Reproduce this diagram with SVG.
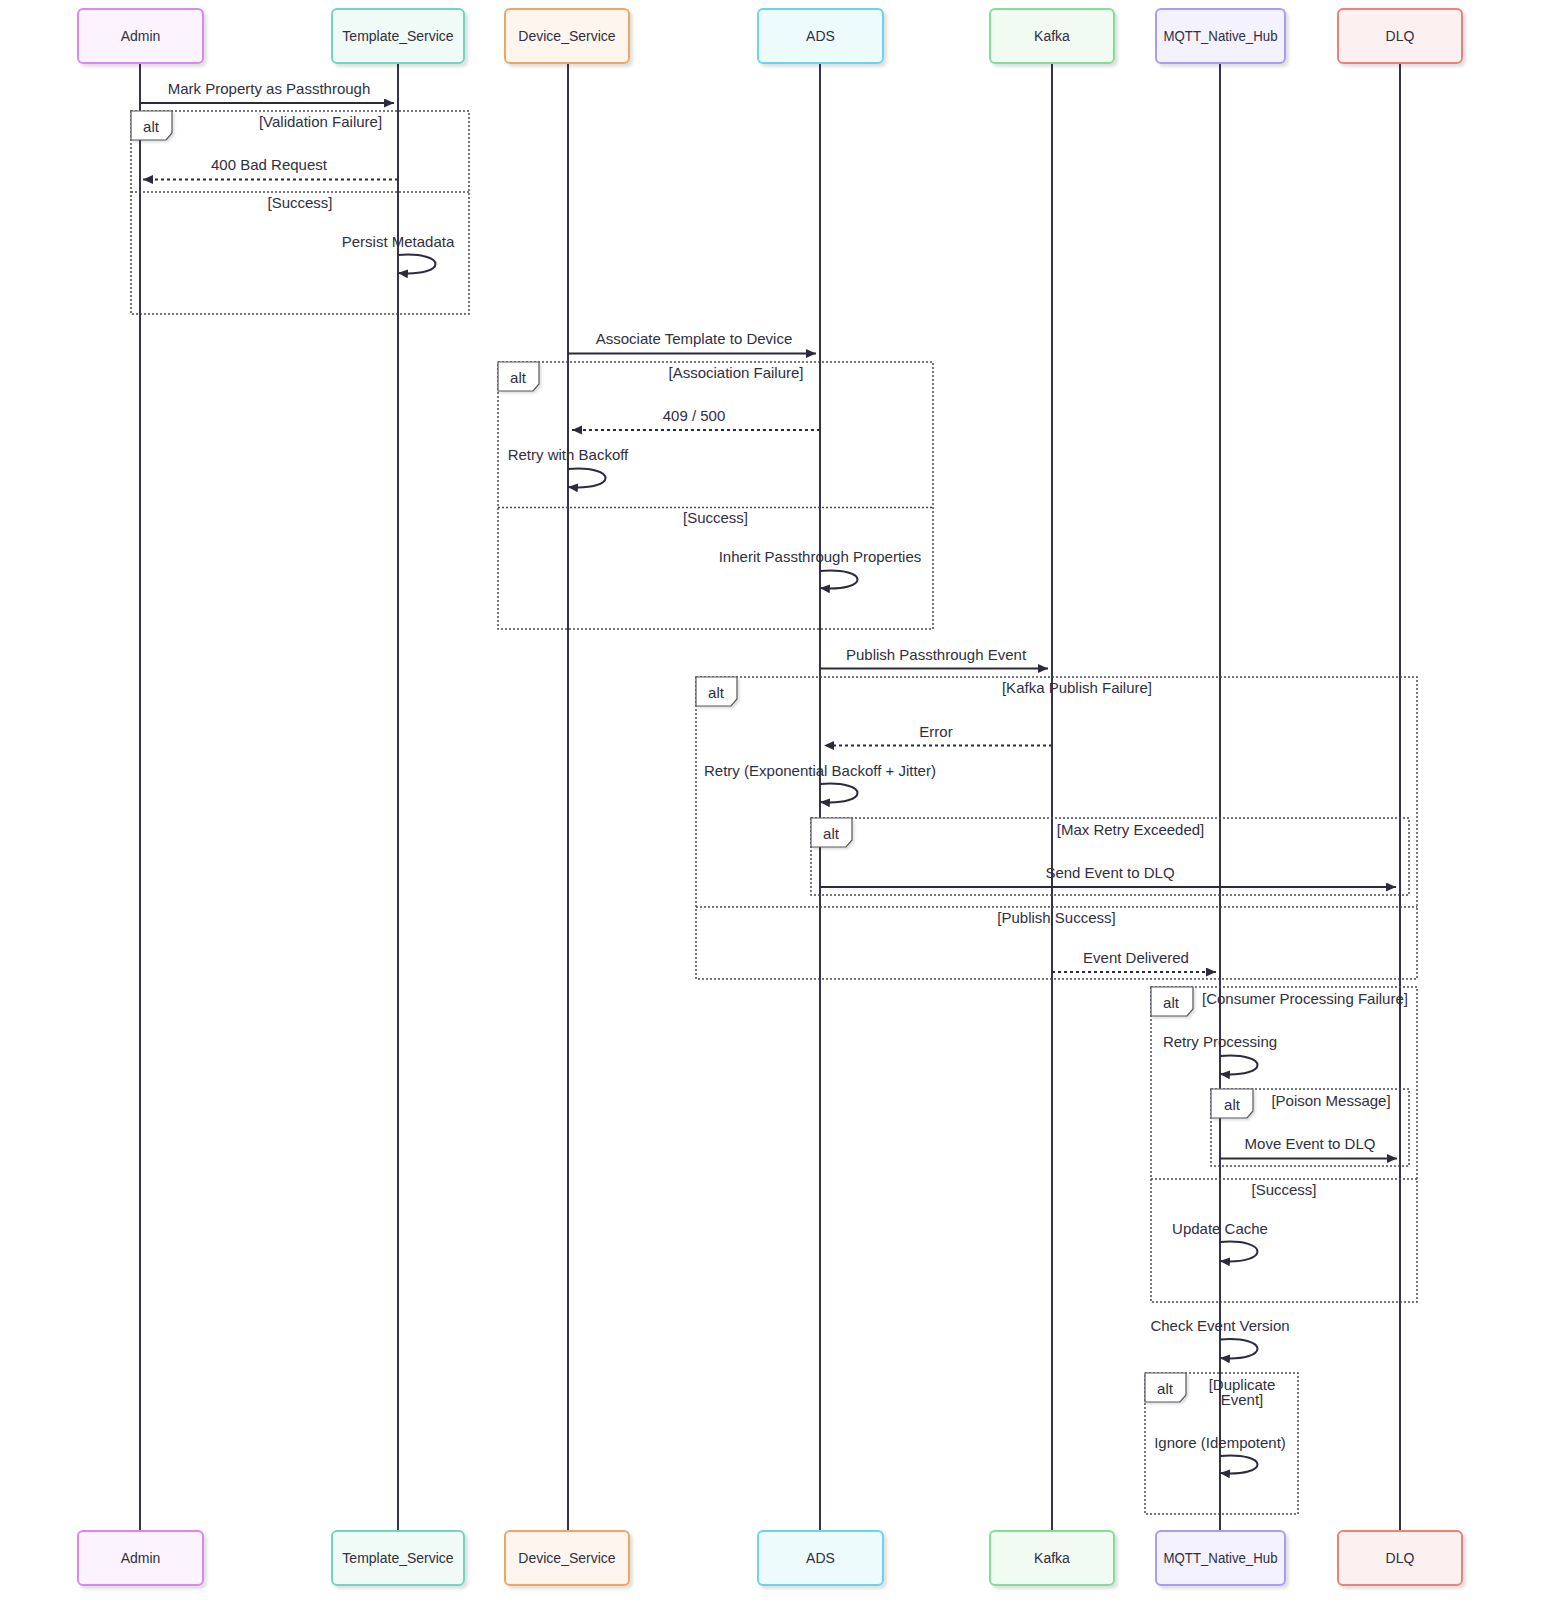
<svg xmlns="http://www.w3.org/2000/svg" width="1560" height="1620" viewBox="0 0 1560 1620">
<style>
text{font-family:"Liberation Sans",Arial,sans-serif;font-size:15px;fill:#2f2f3f;dominant-baseline:central;text-anchor:middle}
.pt{font-size:14px}
.actor{stroke-width:2}
.life{stroke:#33334a;stroke-width:2}
.msg{stroke:#2b2b3d;stroke-width:2;fill:none;marker-end:url(#arrow)}
.dash{stroke-dasharray:3,3}
.frame{fill:none;stroke:#4a4a55;stroke-width:1.5;stroke-dasharray:2,2}
.lab{fill:#ffffff;stroke:#555560;stroke-width:1.2;filter:url(#shl)}
</style>
<defs>
<marker id="arrow" markerUnits="userSpaceOnUse" markerWidth="11" markerHeight="10" refX="10" refY="4.5" orient="auto">
<path d="M0,0 L10,4.5 L0,9 z" fill="#2b2b3d"/>
</marker>
<filter id="sh" x="-10%" y="-10%" width="130%" height="140%">
<feDropShadow dx="3" dy="3" stdDeviation="1.5" flood-color="#000" flood-opacity="0.12"/>
</filter>
<filter id="shl" x="-10%" y="-10%" width="140%" height="140%">
<feDropShadow dx="2" dy="2" stdDeviation="1" flood-color="#000" flood-opacity="0.12"/>
</filter>
</defs>
<rect width="1560" height="1620" fill="#ffffff"/>

<g id="lifelines">
<line class="life" x1="140" y1="63" x2="140" y2="1531"/>
<line class="life" x1="398" y1="63" x2="398" y2="1531"/>
<line class="life" x1="568" y1="63" x2="568" y2="1531"/>
<line class="life" x1="820" y1="63" x2="820" y2="1531"/>
<line class="life" x1="1052" y1="63" x2="1052" y2="1531"/>
<line class="life" x1="1220" y1="63" x2="1220" y2="1531"/>
<line class="life" x1="1400" y1="63" x2="1400" y2="1531"/>
</g>

<g id="Admin">
<rect class="actor" x="78" y="9" width="125" height="54" rx="5" fill="#fbf3fe" stroke="#dd85f0" filter="url(#sh)"/>
<text class="pt" x="140.5" y="36">Admin</text>
<rect class="actor" x="78" y="1531" width="125" height="54" rx="5" fill="#fbf3fe" stroke="#dd85f0" filter="url(#sh)"/>
<text class="pt" x="140.5" y="1558">Admin</text>
</g>
<g id="Template_Service">
<rect class="actor" x="332" y="9" width="132" height="54" rx="5" fill="#f0faf7" stroke="#6fd6c2" filter="url(#sh)"/>
<text class="pt" x="398" y="36">Template_Service</text>
<rect class="actor" x="332" y="1531" width="132" height="54" rx="5" fill="#f0faf7" stroke="#6fd6c2" filter="url(#sh)"/>
<text class="pt" x="398" y="1558">Template_Service</text>
</g>
<g id="Device_Service">
<rect class="actor" x="505" y="9" width="124" height="54" rx="5" fill="#fef6ee" stroke="#f2a462" filter="url(#sh)"/>
<text class="pt" x="567" y="36">Device_Service</text>
<rect class="actor" x="505" y="1531" width="124" height="54" rx="5" fill="#fef6ee" stroke="#f2a462" filter="url(#sh)"/>
<text class="pt" x="567" y="1558">Device_Service</text>
</g>
<g id="ADS">
<rect class="actor" x="758" y="9" width="125" height="54" rx="5" fill="#eefbfd" stroke="#68d4ee" filter="url(#sh)"/>
<text class="pt" x="820.5" y="36">ADS</text>
<rect class="actor" x="758" y="1531" width="125" height="54" rx="5" fill="#eefbfd" stroke="#68d4ee" filter="url(#sh)"/>
<text class="pt" x="820.5" y="1558">ADS</text>
</g>
<g id="Kafka">
<rect class="actor" x="990" y="9" width="124" height="54" rx="5" fill="#f1fbf2" stroke="#82de92" filter="url(#sh)"/>
<text class="pt" x="1052" y="36">Kafka</text>
<rect class="actor" x="990" y="1531" width="124" height="54" rx="5" fill="#f1fbf2" stroke="#82de92" filter="url(#sh)"/>
<text class="pt" x="1052" y="1558">Kafka</text>
</g>
<g id="MQTT_Native_Hub">
<rect class="actor" x="1156" y="9" width="129" height="54" rx="5" fill="#f4f2fe" stroke="#a99cf6" filter="url(#sh)"/>
<text class="pt" x="1220.5" y="36" textLength="114" lengthAdjust="spacingAndGlyphs">MQTT_Native_Hub</text>
<rect class="actor" x="1156" y="1531" width="129" height="54" rx="5" fill="#f4f2fe" stroke="#a99cf6" filter="url(#sh)"/>
<text class="pt" x="1220.5" y="1558" textLength="114" lengthAdjust="spacingAndGlyphs">MQTT_Native_Hub</text>
</g>
<g id="DLQ">
<rect class="actor" x="1338" y="9" width="124" height="54" rx="5" fill="#fcf1f0" stroke="#ee817b" filter="url(#sh)"/>
<text class="pt" x="1400" y="36">DLQ</text>
<rect class="actor" x="1338" y="1531" width="124" height="54" rx="5" fill="#fcf1f0" stroke="#ee817b" filter="url(#sh)"/>
<text class="pt" x="1400" y="1558">DLQ</text>
</g>

<g id="frames">
<g id="alt1">
<rect class="frame" x="131" y="111" width="338" height="203"/>
<line class="frame" x1="131" y1="192" x2="469" y2="192"/>
<polygon class="lab" points="131,111 172,111 172,133 166,140 131,140"/>
<text x="151" y="126">alt</text>
<text x="320.5" y="121.5">[Validation Failure]</text>
<text x="300" y="202">[Success]</text>
</g>
<g id="alt2">
<rect class="frame" x="498" y="362" width="435" height="267"/>
<line class="frame" x1="498" y1="507.5" x2="933" y2="507.5"/>
<polygon class="lab" points="498,362 539,362 539,384 533,391 498,391"/>
<text x="518" y="377">alt</text>
<text x="736" y="372">[Association Failure]</text>
<text x="715.5" y="517.5">[Success]</text>
</g>
<g id="alt3">
<rect class="frame" x="696" y="677" width="721" height="302"/>
<line class="frame" x1="696" y1="907" x2="1417" y2="907"/>
<polygon class="lab" points="696,677 737,677 737,699 731,706 696,706"/>
<text x="716" y="692">alt</text>
<text x="1077" y="687.5">[Kafka Publish Failure]</text>
<text x="1056.5" y="917.5">[Publish Success]</text>
</g>
<g id="alt3b">
<rect class="frame" x="811" y="818" width="598" height="77"/>
<polygon class="lab" points="811,818 852,818 852,840 846,847 811,847"/>
<text x="831" y="833">alt</text>
<text x="1130.5" y="829">[Max Retry Exceeded]</text>
</g>
<g id="alt4">
<rect class="frame" x="1151" y="987" width="266" height="315"/>
<line class="frame" x1="1151" y1="1179" x2="1417" y2="1179"/>
<polygon class="lab" points="1151,987 1193,987 1193,1009 1187,1016 1151,1016"/>
<text x="1171" y="1002">alt</text>
<text x="1305" y="998.5">[Consumer Processing Failure]</text>
<text x="1284" y="1189.5">[Success]</text>
</g>
<g id="alt4b">
<rect class="frame" x="1211" y="1089" width="198" height="77"/>
<polygon class="lab" points="1211,1089 1253,1089 1253,1111 1247,1118 1211,1118"/>
<text x="1232" y="1104">alt</text>
<text x="1331" y="1100">[Poison Message]</text>
</g>
<g id="alt5">
<rect class="frame" x="1145" y="1373" width="153" height="141"/>
<polygon class="lab" points="1145,1373 1186,1373 1186,1395 1180,1402 1145,1402"/>
<text x="1165" y="1388">alt</text>
<text x="1242" y="1384">[Duplicate</text>
<text x="1242" y="1399.5">Event]</text>
</g>
</g>

<g id="connectors">
<line class="msg" x1="140" y1="103" x2="394" y2="103"/>
<text x="269" y="88">Mark Property as Passthrough</text>
<line class="msg dash" x1="398" y1="179.5" x2="143" y2="179.5"/>
<text x="269" y="164.5">400 Bad Request</text>
<path class="msg" d="M398,255 C448,251 448,277 398,273"/>
<text x="398" y="241">Persist Metadata</text>

<line class="msg" x1="568" y1="353.5" x2="816" y2="353.5"/>
<text x="694" y="338.5">Associate Template to Device</text>
<line class="msg dash" x1="820" y1="430" x2="572" y2="430"/>
<text x="694" y="415">409 / 500</text>
<path class="msg" d="M568,469 C618,465 618,491 568,487"/>
<text x="568" y="454.5">Retry with Backoff</text>
<path class="msg" d="M820,571 C870,567 870,592 820,588"/>
<text x="820" y="556">Inherit Passthrough Properties</text>

<line class="msg" x1="820" y1="668.5" x2="1048" y2="668.5"/>
<text x="936" y="654">Publish Passthrough Event</text>
<line class="msg dash" x1="1052" y1="745.5" x2="824" y2="745.5"/>
<text x="936" y="731">Error</text>
<path class="msg" d="M820,784 C870,780 870,806 820,802"/>
<text x="820" y="770">Retry (Exponential Backoff + Jitter)</text>
<line class="msg" x1="820" y1="887" x2="1396" y2="887"/>
<text x="1110" y="872">Send Event to DLQ</text>
<line class="msg dash" x1="1052" y1="972" x2="1216" y2="972"/>
<text x="1136" y="957">Event Delivered</text>

<path class="msg" d="M1220,1056 C1270,1052 1270,1078 1220,1074"/>
<text x="1220" y="1041.5">Retry Processing</text>
<line class="msg" x1="1220" y1="1158.5" x2="1397" y2="1158.5"/>
<text x="1310" y="1143.5">Move Event to DLQ</text>
<path class="msg" d="M1220,1242 C1270,1238 1270,1265 1220,1261"/>
<text x="1220" y="1228.5">Update Cache</text>
<path class="msg" d="M1220,1339.5 C1270,1335.5 1270,1362 1220,1358"/>
<text x="1220" y="1325.5">Check Event Version</text>
<path class="msg" d="M1220,1456 C1270,1452 1270,1477 1220,1473"/>
<text x="1220" y="1442.5">Ignore (Idempotent)</text>
</g>
</svg>
